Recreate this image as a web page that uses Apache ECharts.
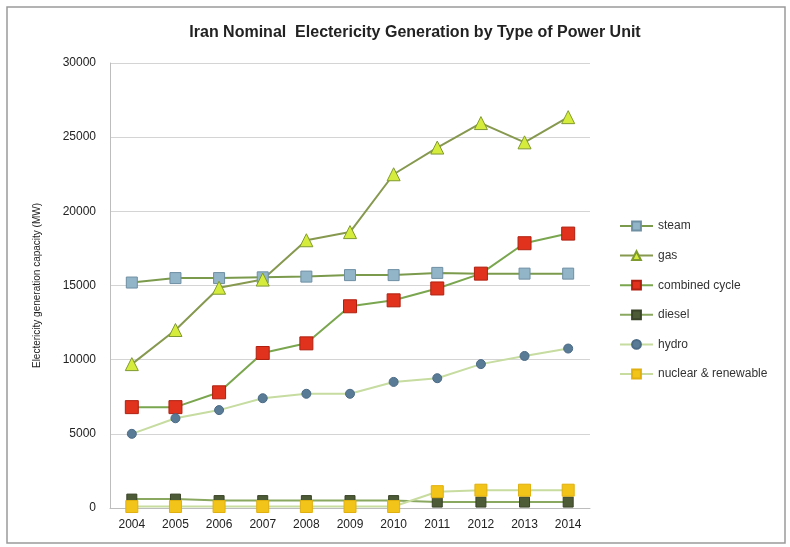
<!DOCTYPE html>
<html>
<head>
<meta charset="utf-8">
<script src="https://cdn.jsdelivr.net/npm/echarts@6/dist/echarts.min.js"></script>
<style>
  html, body { margin: 0; padding: 0; background: #fff; }
  #main { width: 790px; height: 547px; }
</style>
</head>
<body>
<div id="main"></div>
<script>
// data
var years = ['2004', '2005', '2006', '2007', '2008', '2009', '2010', '2011', '2012', '2013', '2014'];
var steam = [15200, 15500, 15500, 15550, 15600, 15700, 15700, 15850, 15800, 15800, 15800];
var gas = [9700, 12000, 14850, 15400, 18050, 18600, 22500, 24300, 25950, 24650, 26350];
var combinedCycle = [6800, 6800, 7800, 10450, 11100, 13600, 14000, 14800, 15800, 17850, 18500];
var diesel = [600, 600, 500, 500, 500, 500, 500, 400, 400, 400, 400];
var hydro = [5000, 6050, 6600, 7400, 7700, 7700, 8500, 8750, 9700, 10250, 10750];
var nuclear = [100, 100, 100, 100, 100, 100, 100, 1100, 1200, 1200, 1200];

var chart = echarts.init(document.getElementById('main'));

function line(name, data, symbol, size, fill, border, lineColor) {
  return {
    name: name,
    type: 'line',
    data: data,
    symbol: symbol,
    symbolSize: size,
    showAllSymbol: true,
    lineStyle: { color: lineColor, width: 2 },
    itemStyle: { color: fill, borderColor: border, borderWidth: 1 }
  };
}

var font = '"Liberation Sans", Arial, sans-serif';

chart.setOption({
  animation: false,
  textStyle: { fontFamily: font },
  title: {
    text: 'Iran Nominal  Electericity Generation by Type of Power Unit',
    left: 410,
    top: 20,
    textAlign: 'center',
    textStyle: { fontSize: 16, fontWeight: 'bold', color: '#222', fontFamily: font }
  },
  graphic: [{
    type: 'rect',
    shape: { x: 7, y: 7, width: 778, height: 536 },
    style: { fill: 'none', stroke: '#9a9a9a', lineWidth: 1.5 },
    silent: true
  }],
  legend: {
    orient: 'vertical',
    left: 614,
    top: 215,
    itemWidth: 33,
    itemHeight: 11,
    itemGap: 17.6,
    textStyle: { fontSize: 12, color: '#333' },
    data: ['steam', 'gas', 'combined cycle', 'diesel', 'hydro', 'nuclear & renewable']
  },
  grid: { left: 110, right: 200, top: 63, bottom: 39 },
  xAxis: {
    type: 'category',
    data: years,
    axisLine: { lineStyle: { color: '#bdbdbd' } },
    axisTick: { show: false },
    axisLabel: { color: '#222', fontSize: 12, margin: 11 }
  },
  yAxis: {
    type: 'value',
    min: 0,
    max: 30000,
    interval: 5000,
    name: 'Electericity generation capacity (MW)',
    nameLocation: 'middle',
    nameGap: 68,
    nameTextStyle: { fontSize: 10, color: '#222' },
    axisLine: { show: true, lineStyle: { color: '#bdbdbd' } },
    axisTick: { show: false },
    axisLabel: { color: '#222', fontSize: 12, margin: 14, formatter: function (v) { return String(v); } },
    splitLine: { lineStyle: { color: '#d4d4d4' } }
  },
  series: [
    line('steam', steam, 'rect', 11, '#93b5c8', '#6f8fa3', '#7b9a4c'),
    line('gas', gas, 'triangle', 13, '#d6ec3c', '#7f9a2e', '#86994f'),
    line('combined cycle', combinedCycle, 'rect', 13, '#e0321c', '#b02010', '#7aa64f'),
    line('diesel', diesel, 'rect', 10, '#4d5b36', '#3a4428', '#8aa860'),
    line('hydro', hydro, 'circle', 9, '#5a7b96', '#4a6a85', '#c6dca0'),
    line('nuclear & renewable', nuclear, 'rect', 12, '#f2c419', '#e0b010', '#c8dca0')
  ]
});
</script>
</body>
</html>
